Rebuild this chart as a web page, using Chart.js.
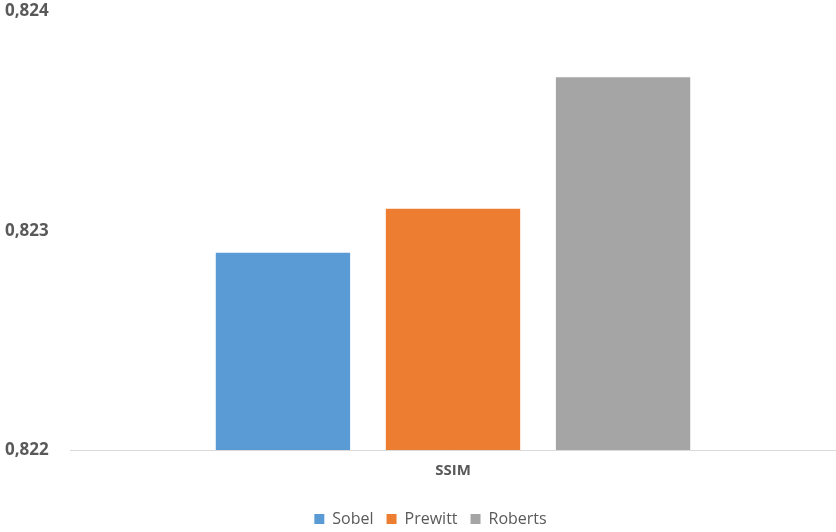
<!DOCTYPE html>
<html>
<head>
<meta charset="utf-8">
<script src="https://cdn.jsdelivr.net/npm/chart.js@4"></script>
<style>
html,body{margin:0;padding:0;background:#fff;}
#wrap{width:836px;height:532px;position:relative;}
</style>
</head>
<body>
<div id="wrap"><canvas id="c"></canvas></div>
<script>
const categories = ["SSIM"];
const seriesNames = ["Sobel", "Prewitt", "Roberts"];
const sobel = [0.8229];
const prewitt = [0.8231];
const roberts = [0.8237];
const yTicks = [0.822, 0.823, 0.824];
const colors = ["#5b9bd5", "#ed7d31", "#a5a5a5"];
const values = [sobel, prewitt, roberts];

const legendShift = {
  id: 'legendShift',
  afterLayout(chart) {
    const lg = chart.legend;
    if (lg) { lg.top += 7; lg.bottom += 7; lg.left += 10; lg.right += 10; }
  }
};

new Chart(document.getElementById('c'), {
  type: 'bar',
  data: {
    labels: categories,
    datasets: seriesNames.map((n, i) => ({
      label: n,
      data: values[i],
      backgroundColor: colors[i],
      borderWidth: 0,
      categoryPercentage: 0.666,
      barPercentage: 0.79
    }))
  },
  plugins: [legendShift],
  options: {
    responsive: true,
    maintainAspectRatio: false,
    animation: false,
    layout: { padding: { left: 5, right: 0, top: 1, bottom: 2 } },
    plugins: {
      legend: {
        position: 'bottom',
        labels: {
          boxWidth: 10, boxHeight: 10, padding: 13,
          color: '#595959',
          font: { family: 'Open Sans', size: 16 }
        }
      },
      tooltip: { enabled: false }
    },
    scales: {
      x: {
        grid: { display: false },
        border: { display: true, color: '#d9d9d9', width: 1 },
        afterFit: (ax) => { ax.height += 7; },
        ticks: { color: '#595959', font: { family: 'Open Sans', size: 15, weight: 'bold' }, padding: 4 }
      },
      y: {
        min: yTicks[0], max: yTicks[yTicks.length - 1],
        afterBuildTicks: (ax) => { ax.ticks = yTicks.map(v => ({ value: v })); },
        afterFit: (ax) => { ax.width = 65; },
        grid: { display: false },
        border: { display: false },
        ticks: {
          crossAlign: 'far',
          color: '#595959',
          font: { family: 'Open Sans', size: 17, weight: 'bold', lineHeight: 1 },
          callback: (v) => Number(v).toFixed(3).replace('.', ',')
        }
      }
    }
  }
});
</script>
</body>
</html>
